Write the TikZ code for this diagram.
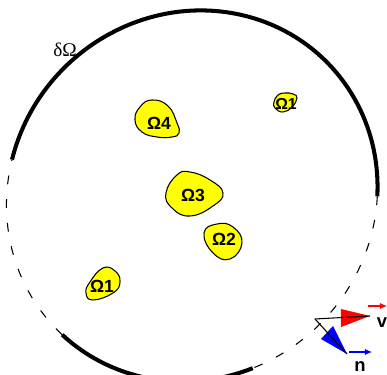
\documentclass[tikz,border=0pt]{standalone}
\usepackage{fontspec}
\setmainfont{Liberation Serif}
\setsansfont{Liberation Sans}
\usepackage{tikz}
\usetikzlibrary{arrows.meta}

\begin{document}
\begin{tikzpicture}[x=0.02cm, y=0.02cm,
  blob/.style={fill=blobYellow, draw=black, line width=0.6pt},
  blobLabel/.style={font=\sffamily\bfseries\fontsize{10}{10}\selectfont, inner sep=0pt},
  edgeSolid/.style={line width=2.3pt},
  edgeDashed/.style={line width=0.6pt, dash pattern=on 5pt off 8.5pt},
  vecLabel/.style={font=\sffamily\bfseries\fontsize{10.5}{10.5}\selectfont, inner sep=0pt}]

% Colori
\definecolor{blobYellow}{HTML}{FFFF00}
\definecolor{vecRed}{HTML}{FF0000}
\definecolor{vecBlue}{HTML}{0000FF}

\useasboundingbox (0,0) rectangle (387,375);

% Bordo: tratti pieni e tratteggiati (ellisse 190 x 181, ruotata)
\begin{scope}[shift={(192,179)}, rotate=45]
\draw[edgeSolid] (122.3:190 and 181) arc[start angle=122.3, end angle=-46.5, x radius=190, y radius=181];
\draw[edgeDashed] (-46.5:190 and 181) arc[start angle=-46.5, end angle=-114.5, x radius=190, y radius=181];
\draw[edgeSolid] (-114.5:190 and 181) arc[start angle=-114.5, end angle=-178, x radius=190, y radius=181];
\draw[edgeDashed] (182:190 and 181) arc[start angle=182, end angle=122.3, x radius=190, y radius=181];
\end{scope}

\node[font=\fontsize{11}{11}\selectfont, inner sep=0pt] (bordo) at (65,325) {δΩ};

% Sottodomini
\path[blob] plot[smooth cycle, tension=0.8] coordinates
  {(135,255) (140,268) (152,275) (168,269) (177,252) (179,242) (172,238) (157,238) (142,243)};
\node[blobLabel] (om4) at (159,252) {Ω4};

\path[blob] plot[smooth cycle, tension=0.8] coordinates
  {(274,273) (278,280) (285,282) (293,281) (297,277) (292,268) (283,263) (275,267)};
\node[blobLabel, font=\sffamily\bfseries\fontsize{9}{9}\selectfont] (om1a) at (286,271) {Ω1};

\path[blob] plot[smooth cycle, tension=0.8] coordinates
  {(166,182) (177,200) (190,203) (210,195) (223,182) (213,169) (190,159) (172,167)};
\node[blobLabel] (om3) at (193,180) {Ω3};

\path[blob] plot[smooth cycle, tension=0.8] coordinates
  {(217,151) (204,142) (213,122) (230,116) (242,132) (233,148)};
\node[blobLabel] (om2) at (224,136) {Ω2};

\path[blob] plot[smooth cycle, tension=0.8] coordinates
  {(103,107) (90,93) (86,82) (93,75) (113,82) (120,93) (115,104)};
\node[blobLabel] (om1b) at (102,89) {Ω1};

% Vettori v e n
\coordinate (base) at (315,56);
\coordinate (vTip) at (370,59);
\coordinate (nTip) at (347,21);

\fill[vecRed] (341,66) -- (341,48) -- (vTip) -- cycle;
\fill[vecBlue] (321,36) -- (333,49) -- (nTip) -- cycle;
\draw[line width=0.6pt] (base) -- (vTip);
\draw[line width=0.6pt] (base) -- (nTip);

\node[vecLabel] (vLab) at (382,52) {v};
\node[vecLabel] (nLab) at (360,8) {n};
\draw[vecRed, line width=0.6pt, -{Latex[length=4pt, width=3.5pt]}] (368,69) -- (387,69);
\draw[vecBlue, line width=0.6pt, -{Latex[length=4pt, width=3.5pt]}] (349,23) -- (372,23);

\end{tikzpicture}
\end{document}
